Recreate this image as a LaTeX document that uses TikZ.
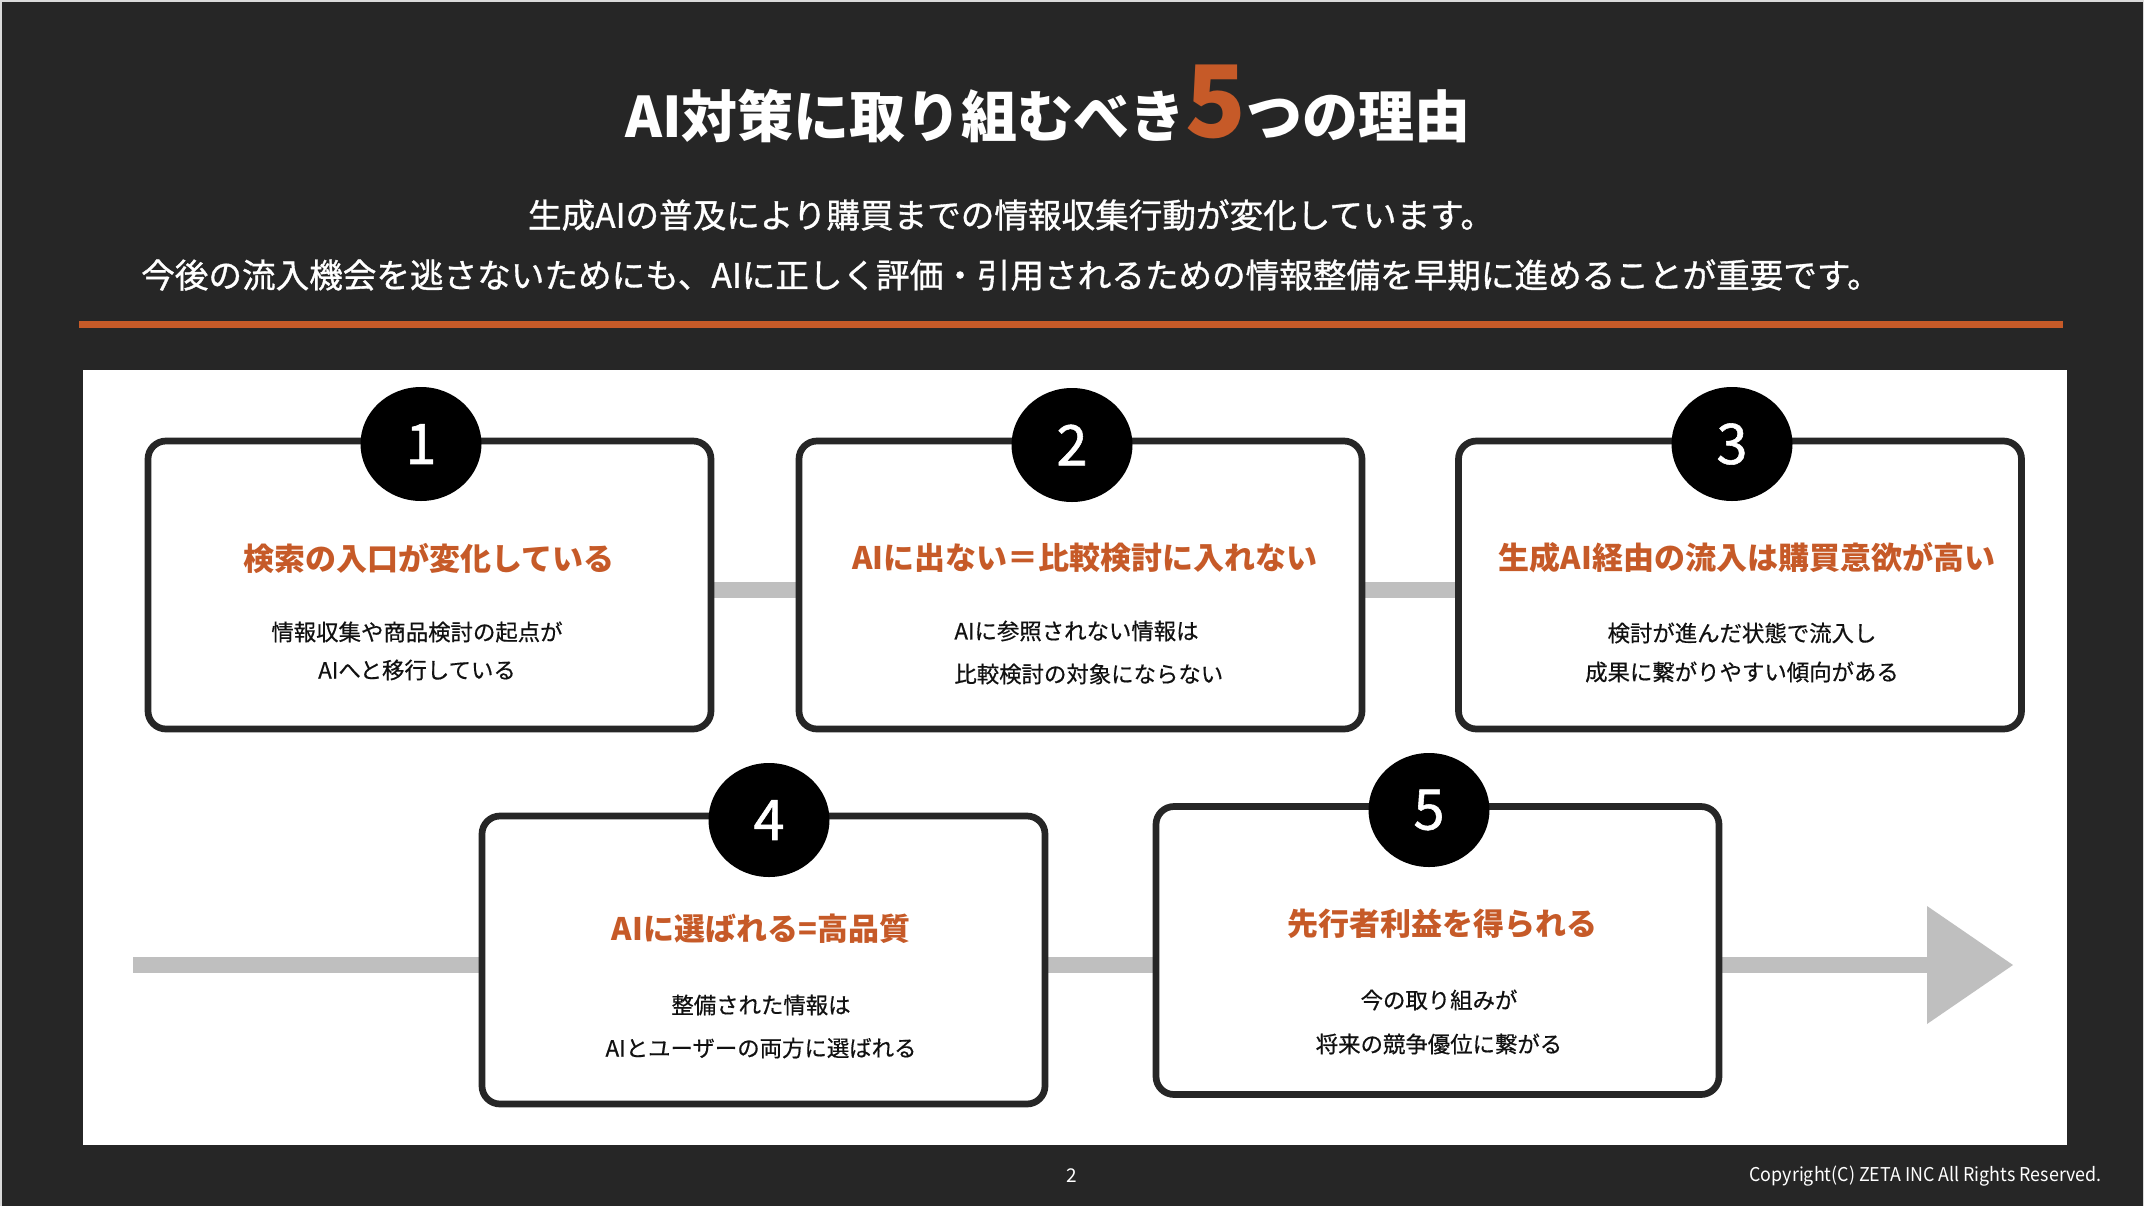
\documentclass[tikz,border=0pt]{standalone}
\usepackage{fontspec}
\setmainfont{Noto Sans CJK JP}
\newfontfamily\medfont{Noto Sans CJK JP}[FakeBold=1]
\newfontfamily\semifont{Noto Sans CJK JP}[FakeBold=0.5]
\usetikzlibrary{arrows.meta,shapes.geometric}
\definecolor{bgc}{HTML}{262626}
\definecolor{edgec}{HTML}{DADADA}
\definecolor{accent}{HTML}{C65A28}
\definecolor{barc}{HTML}{BFBFBF}
\definecolor{inkc}{HTML}{111111}
\pgfdeclarelayer{back}
\pgfdeclarelayer{mid}
\pgfsetlayers{back,mid,main}
\begin{document}
\begin{tikzpicture}[x=0.5pt,y=-0.5pt,
  card/.style={draw=bgc, line width=3.35pt, fill=white, rounded corners=9pt,
    minimum width=281.5pt, minimum height=144pt, inner sep=0pt},
  numc/.style={ellipse, fill=black, text=white, minimum width=60.5pt,
    minimum height=57pt, inner sep=0pt, font=\medfont\fontsize{28}{28}\selectfont},
  ctitle/.style={text=accent, inner sep=0pt, font=\bfseries\fontsize{15.5}{15.5}\selectfont},
  cbody/.style={text=inkc, inner sep=0pt, font=\semifont\fontsize{11.2}{11.2}\selectfont},
  subline/.style={text=white, inner sep=0pt, font=\medfont\fontsize{16.8}{16.8}\selectfont},
  foot/.style={text=white, inner sep=0pt, font=\fontsize{9.5}{9.5}\selectfont},
  bar/.style={draw=barc, line width=8pt},
]
\useasboundingbox (0,0) rectangle (2144,1206);
\begin{pgfonlayer}{back}
  \fill[edgec] (0,0) rectangle (2144,1206);
  \fill[bgc] (2,2) rectangle (2143,1206);
  \fill[accent] (79,321) rectangle (2063,328);
  \fill[white] (83,370) rectangle (2067,1145);
\end{pgfonlayer}

% title
\node[inner sep=0pt, text=white, anchor=base, font=\bfseries\fontsize{28}{28}\selectfont] (title) at (1048,137)
  {AI対策に取り組むべき{\color{accent}\fontsize{50}{50}\selectfont 5}つの理由};
\node[subline] (sub1) at (1011,215) {生成AIの普及により購買までの情報収集行動が変化しています。};
\node[subline] (sub2) at (1011,275) {今後の流入機会を逃さないためにも、AIに正しく評価・引用されるための情報整備を早期に進めることが重要です。};

% cards
\node[card] (b1) at (429.5,585) {};
\node[card] (b2) at (1080.5,585) {};
\node[card] (b3) at (1740,585) {};
\node[card] (b4) at (763.5,960) {};
\node[card] (b5) at (1437.5,950.5) {};

% numbers
\node[numc] (n1) at (421,444) {1};
\node[numc] (n2) at (1072,445) {2};
\node[numc] (n3) at (1732,444) {3};
\node[numc] (n4) at (769,820) {4};
\node[numc] (n5) at (1429,810) {5};

% card titles
\node[ctitle] (t1) at (429,558) {検索の入口が変化している};
\node[ctitle] (t2) at (1085,558) {AIに出ない＝比較検討に入れない};
\node[ctitle] (t3) at (1747,558) {生成AI経由の流入は購買意欲が高い};
\node[ctitle] (t4) at (761,929) {AIに選ばれる=高品質};
\node[ctitle] (t5) at (1442,924) {先行者利益を得られる};

% card bodies
\node[cbody] (d1a) at (417,632) {情報収集や商品検討の起点が};
\node[cbody] (d1b) at (417,670) {AIへと移行している};
\node[cbody, anchor=west] (d2a) at (954,631) {AIに参照されない情報は};
\node[cbody, anchor=west] (d2b) at (954,674) {比較検討の対象にならない};
\node[cbody] (d3a) at (1742,633) {検討が進んだ状態で流入し};
\node[cbody] (d3b) at (1742,672) {成果に繋がりやすい傾向がある};
\node[cbody] (d4a) at (761,1005) {整備された情報は};
\node[cbody] (d4b) at (761,1048) {AIとユーザーの両方に選ばれる};
\node[cbody] (d5a) at (1439,1000) {今の取り組みが};
\node[cbody] (d5b) at (1439,1044) {将来の競争優位に繋がる};

% footer
\node[foot] (page) at (1072,1176) {2};
\node[foot, anchor=east] (copy) at (2102,1176) {\scalebox{0.94}[1]{Copyright(C) ZETA INC All Rights Reserved.}};

% connectors
\coordinate (ls) at (133,965);
\coordinate (le) at (2013,965);
\begin{pgfonlayer}{mid}
  \draw[bar] ([yshift=-2.25pt]b1.east) -- ([yshift=-2.25pt]b2.west);
  \draw[bar] ([yshift=-2.25pt]b2.east) -- ([yshift=-2.25pt]b3.west);
  \draw[bar, -{Triangle[length=43pt,width=59pt,line width=0pt]}] (ls) -- (le);
\end{pgfonlayer}
\end{tikzpicture}
\end{document}
